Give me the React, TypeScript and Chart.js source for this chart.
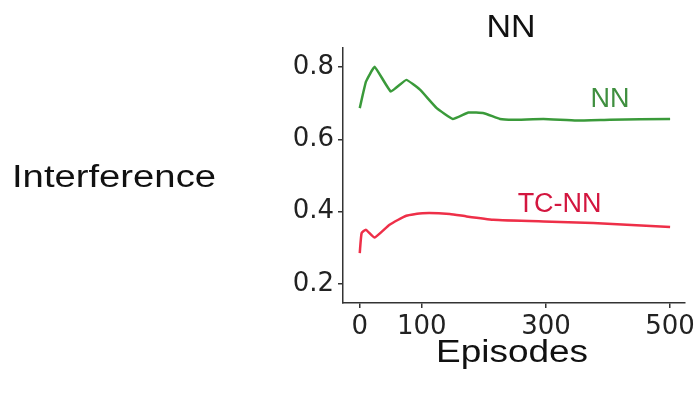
import React, { useEffect, useRef } from "react";
import { Chart, registerables } from "chart.js";

Chart.register(...registerables);

const nnEpisodes = [0, 10, 24, 50, 75, 97, 124, 150, 175, 200, 226, 247, 296, 349, 403, 500];
const nnValues = [0.686, 0.759, 0.8, 0.732, 0.764, 0.737, 0.686, 0.656, 0.674, 0.672, 0.656, 0.654, 0.656, 0.652, 0.654, 0.656];

const tcEpisodes = [0, 3, 10, 24, 48, 75, 101, 145, 172, 215, 296, 376, 500];
const tcValues = [0.286, 0.341, 0.35, 0.329, 0.364, 0.389, 0.396, 0.394, 0.387, 0.378, 0.373, 0.369, 0.358];

const xTickValues = [0, 100, 300, 500];
const yTickValues = [0.2, 0.4, 0.6, 0.8];

const seriesNames = ["NN", "TC-NN"];
const labelEpisodes = [403, 322];
const labelValues = [0.709, 0.419];

const chartTitle = "NN";
const xTitle = "Episodes";
const yTitle = "Interference";

const GREEN = "#3a9a3a";
const RED = "#ee2f48";
const LABEL_COLORS = ["#3f8f3f", "#d3163f"];

function fitText(
  ctx: CanvasRenderingContext2D,
  text: string,
  cx: number,
  baseline: number,
  size: number,
  width: number,
  color: string,
  align: "left" | "center"
) {
  ctx.save();
  ctx.font = `${size}px "Liberation Sans", Arial, sans-serif`;
  ctx.fillStyle = color;
  ctx.textBaseline = "alphabetic";
  ctx.textAlign = "left";
  const w = ctx.measureText(text).width;
  const s = width / w;
  const left = align === "center" ? cx - width / 2 : cx;
  ctx.translate(left, baseline);
  ctx.scale(s, 1);
  ctx.fillText(text, 0, 0);
  ctx.restore();
}

const textPlugin = {
  id: "texts",
  afterDraw(chart: any) {
    const ctx = chart.ctx as CanvasRenderingContext2D;
    const xs = chart.scales.x;
    const ys = chart.scales.y;
    fitText(ctx, chartTitle, 511, 37, 32, 49, "#111", "center");
    fitText(ctx, yTitle, 12, 187, 31, 204, "#111", "left");
    fitText(ctx, xTitle, 512, 362, 31, 152, "#111", "center");
    seriesNames.forEach((name, i) => {
      const px = xs.getPixelForValue(labelEpisodes[i]);
      const py = ys.getPixelForValue(labelValues[i]);
      ctx.save();
      ctx.font = `27px "Liberation Sans", Arial, sans-serif`;
      ctx.fillStyle = LABEL_COLORS[i];
      ctx.textAlign = "center";
      ctx.textBaseline = "middle";
      ctx.fillText(name, px, py);
      ctx.restore();
    });
  },
};

export default function App() {
  const ref = useRef<HTMLCanvasElement>(null);
  useEffect(() => {
    if (!ref.current) return;
    const chart = new Chart(ref.current, {
      type: "line",
      data: {
        datasets: [
          {
            label: seriesNames[0],
            data: nnEpisodes.map((x, i) => ({ x, y: nnValues[i] })),
            borderColor: GREEN,
            borderWidth: 2.5,
            pointRadius: 0,
            tension: 0.1,
          },
          {
            label: seriesNames[1],
            data: tcEpisodes.map((x, i) => ({ x, y: tcValues[i] })),
            borderColor: RED,
            borderWidth: 2.5,
            pointRadius: 0,
            tension: 0.15,
          },
        ],
      },
      options: {
        animation: false,
        responsive: false,
        maintainAspectRatio: false,
        layout: { padding: { left: 260, right: 15, top: 48, bottom: 52 } },
        plugins: { legend: { display: false }, tooltip: { enabled: false }, title: { display: false } },
        scales: {
          x: {
            type: "linear",
            min: -27,
            max: 524,
            afterFit: (s: any) => {
              s.height = 40;
            },
            afterBuildTicks: (s: any) => {
              s.ticks = xTickValues.map((v) => ({ value: v }));
            },
            grid: { drawOnChartArea: false, drawTicks: true, tickLength: 5, color: "#333", lineWidth: 1.5 },
            border: { display: true, color: "#333", width: 1.5 },
            ticks: {
              color: "#222",
              padding: 4,
              maxRotation: 0,
              autoSkip: false,
              font: { family: "'DejaVu Sans'", size: 26 },
              callback: (v: any) => String(v),
            },
          },
          y: {
            type: "linear",
            min: 0.148,
            max: 0.852,
            afterFit: (s: any) => {
              s.width = 83;
            },
            afterBuildTicks: (s: any) => {
              s.ticks = yTickValues.map((v) => ({ value: v }));
            },
            grid: { drawOnChartArea: false, drawTicks: true, tickLength: 5, color: "#333", lineWidth: 1.5 },
            border: { display: true, color: "#333", width: 1.5 },
            ticks: {
              color: "#222",
              padding: 4,
              autoSkip: false,
              font: { family: "'DejaVu Sans'", size: 26 },
              callback: (v: any) => Number(v).toFixed(1),
            },
          },
        },
      },
      plugins: [textPlugin],
    });
    return () => chart.destroy();
  }, []);
  return (
    <div style={{ position: "absolute", left: 0, top: 0, width: 700, height: 395, background: "#fff" }}>
      <canvas ref={ref} width={700} height={395} style={{ width: 700, height: 395, display: "block" }} />
    </div>
  );
}
